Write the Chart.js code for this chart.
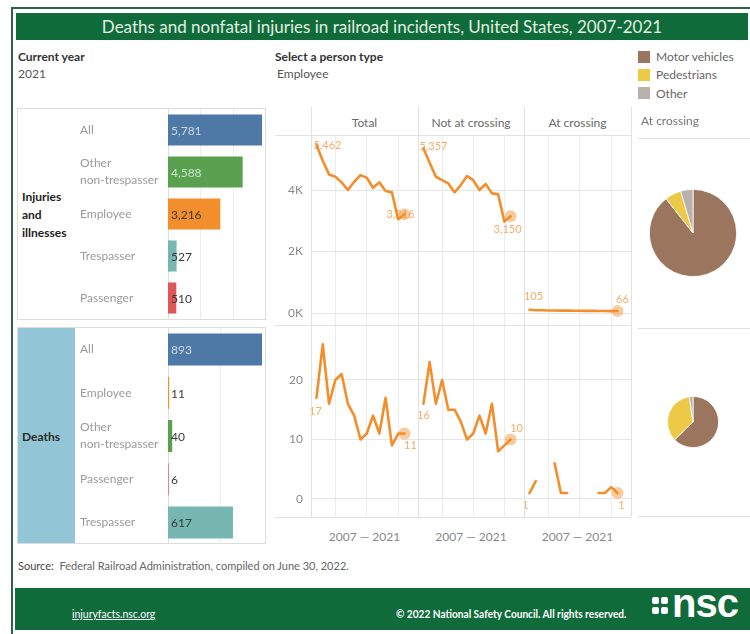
<!DOCTYPE html>
<html>
<head>
<meta charset="utf-8">
<title>Railroad incidents</title>
<script src="https://cdn.jsdelivr.net/npm/chart.js@4.4.0/dist/chart.umd.min.js"></script>
<style>
  body { margin: 0; width: 750px; height: 634px; position: relative; background: #fff; overflow: hidden;
         font-family: Lato, "Open Sans", sans-serif; }
  .abs { position: absolute; white-space: nowrap; }
  canvas { position: absolute; }
  .hl { position: absolute; height: 1px; background: #e1e1e1; }
  .vl { position: absolute; width: 1px; background: #e1e1e1; }
  .t12 { font-size: 12px; line-height: 14px; }
  .key { position: absolute; width: 12px; height: 12px; }
  .foot { position: absolute; color: #fff; font-size: 11px; line-height: 14px; transform-origin: 0 50%; }
  .dot { position: absolute; width: 7px; height: 7px; border-radius: 2px; background: #fff; }
</style>
</head>
<body>

<!-- frame, title, footer -->
<div class="abs" style="left:11px;top:7px;width:745px;height:640px;border-top:2px solid #2f6244;border-left:2px solid #2f6244"></div>
<div class="abs" style="left:16px;top:13px;width:732px;height:27px;background:#0f6b3a;color:#e2efe0;font-size:17px;line-height:27px;text-align:center">Deaths and nonfatal injuries in railroad incidents, United States, 2007-2021</div>

<div class="abs t12" style="left:18px;top:50px;font-weight:bold;color:#333">Current year</div>
<div class="abs t12" style="left:18px;top:67px;color:#555">2021</div>
<div class="abs t12" style="left:275px;top:50px;font-weight:bold;color:#333">Select a person type</div>
<div class="abs t12" style="left:277px;top:67px;color:#555">Employee</div>

<div class="key" style="left:638px;top:51px;background:#9c755f"></div>
<div class="key" style="left:638px;top:69px;background:#edc948"></div>
<div class="key" style="left:638px;top:87px;background:#bab0ac"></div>
<div class="abs t12" style="left:656px;top:50px;color:#666">Motor vehicles</div>
<div class="abs t12" style="left:656px;top:68px;color:#666">Pedestrians</div>
<div class="abs t12" style="left:656px;top:87px;color:#666">Other</div>

<!-- left panels -->
<div class="abs" style="left:17px;top:108px;width:247px;height:210px;border:1px solid #dcdcdc"></div>
<div class="abs" style="left:22px;top:188px;font-size:12px;line-height:18px;font-weight:bold;color:#222">Injuries<br>and<br>illnesses</div>
<div class="abs" style="left:17px;top:327px;width:247px;height:215px;border:1px solid #dcdcdc"></div>
<div class="abs" style="left:18px;top:328px;width:57px;height:215px;background:#92c6d6"></div>
<div class="abs t12" style="left:22px;top:430px;font-weight:bold;color:#2a2a2a">Deaths</div>
<canvas id="injuryBars" width="184" height="210" style="left:80px;top:109px"></canvas>
<canvas id="deathBars" width="184" height="216" style="left:80px;top:328px"></canvas>

<!-- trend panel -->
<div class="abs t12" style="left:311px;top:116px;width:107px;text-align:center;color:#6a6a6a">Total</div>
<div class="abs t12" style="left:418px;top:116px;width:106px;text-align:center;color:#6a6a6a">Not at crossing</div>
<div class="abs t12" style="left:524px;top:116px;width:107px;text-align:center;color:#6a6a6a">At crossing</div>
<canvas id="injTotal" width="143" height="190" style="left:275px;top:135px"></canvas>
<canvas id="injNot" width="106" height="190" style="left:418px;top:135px"></canvas>
<canvas id="injAt" width="107" height="190" style="left:524px;top:135px"></canvas>
<canvas id="dthTotal" width="143" height="192" style="left:275px;top:325px"></canvas>
<canvas id="dthNot" width="106" height="192" style="left:418px;top:325px"></canvas>
<canvas id="dthAt" width="107" height="192" style="left:524px;top:325px"></canvas>
<div class="hl" style="left:275px;top:135px;width:356px"></div>
<div class="hl" style="left:275px;top:325px;width:356px"></div>
<div class="hl" style="left:275px;top:517px;width:356px"></div>
<div class="vl" style="left:311px;top:107px;height:410px"></div>
<div class="vl" style="left:418px;top:107px;height:410px"></div>
<div class="vl" style="left:524px;top:107px;height:410px"></div>
<div class="vl" style="left:631px;top:107px;height:410px"></div>
<div class="abs t12" style="left:311px;top:530px;width:107px;text-align:center;color:#888">2007 — 2021</div>
<div class="abs t12" style="left:418px;top:530px;width:106px;text-align:center;color:#888">2007 — 2021</div>
<div class="abs t12" style="left:524px;top:530px;width:107px;text-align:center;color:#888">2007 — 2021</div>

<!-- pies -->
<div class="abs t12" style="left:641px;top:114px;color:#777">At crossing</div>
<div class="hl" style="left:638px;top:138px;width:112px"></div>
<div class="hl" style="left:638px;top:328px;width:112px"></div>
<div class="hl" style="left:638px;top:516px;width:112px"></div>
<canvas id="injPie" width="88" height="88" style="left:649px;top:189px"></canvas>
<canvas id="dthPie" width="52" height="52" style="left:667px;top:396px"></canvas>

<div class="abs" style="left:18px;top:559px;font-size:11px;line-height:14px;color:#666"><span style="color:#444">Source:</span>&nbsp; Federal Railroad Administration, compiled on June 30, 2022.</div>

<div class="abs" style="left:15px;top:588px;width:735px;height:42px;background:#0f6b3a"></div>
<div class="foot" style="left:72px;top:607px;text-decoration:underline;transform:scaleX(0.95)">injuryfacts.nsc.org</div>
<div class="foot" style="left:396px;top:607px;font-weight:bold;transform:scaleX(0.92)">© 2022 National Safety Council. All rights reserved.</div>
<div class="dot" style="left:652px;top:597px"></div>
<div class="dot" style="left:661px;top:597px"></div>
<div class="dot" style="left:652px;top:607px"></div>
<div class="dot" style="left:661px;top:607px"></div>
<div class="abs" style="left:672px;top:583px;color:#fff;font-family:'Liberation Sans',Arial,sans-serif;font-weight:bold;font-size:40px;line-height:40px;letter-spacing:-1px">nsc</div>

<script>
// 2021 values by person type
const injuryGroups = ['All', 'Other non-trespasser', 'Employee', 'Trespasser', 'Passenger'];
const injuryCounts = [5781, 4588, 3216, 527, 510];
const deathGroups = ['All', 'Employee', 'Other non-trespasser', 'Passenger', 'Trespasser'];
const deathCounts = [893, 11, 40, 6, 617];

// employee trend, 2007-2021
const years = [2007, 2008, 2009, 2010, 2011, 2012, 2013, 2014, 2015, 2016, 2017, 2018, 2019, 2020, 2021];
const injTotal = [5462, 4950, 4508, 4432, 4249, 4000, 4270, 4486, 4400, 4076, 4249, 3968, 3924, 3049, 3216];
const injNotCrossing = [5357, 4890, 4432, 4324, 4216, 3924, 4162, 4454, 4324, 4000, 4195, 3892, 3859, 2973, 3150];
const injAtCrossing = [105, 92, 88, 84, 80, 76, 78, 74, 72, 70, 68, 66, 64, 62, 66];
const dthTotal = [17, 26, 16, 20, 21, 16, 14, 10, 11, 14, 11, 17, 9, 11, 11];
const dthNotCrossing = [16, 23, 16, 20, 15, 15, 13, 10, 11, 14, 11, 16, 8, 9, 10];
const dthAtCrossing = [1, 3, null, null, 6, 1, 1, null, null, null, null, 1, 1, 2, 1];

const injuryTicks = [0, 2000, 4000];
const deathTicks = [0, 10, 20];

// at-crossing split by what was struck
const pieTypes = ['Motor vehicles', 'Pedestrians', 'Other'];
const injuryPie = [59, 4, 3];
const deathPie = [27, 15, 1];

const typeColors = {
  'All': '#4e79a7',
  'Other non-trespasser': '#59a14f',
  'Employee': '#f28e2b',
  'Trespasser': '#76b7b2',
  'Passenger': '#e15759'
};
const pieColors = ['#9c755f', '#edc948', '#bab0ac'];
const lineColor = '#f28e2b';

Chart.defaults.font.family = 'Lato, "Open Sans", sans-serif';
Chart.defaults.animation = false;
Chart.defaults.responsive = false;
Chart.defaults.plugins.legend.display = false;
Chart.defaults.plugins.tooltip.enabled = false;

const wrap = s => s.startsWith('Other ') ? ['Other', s.slice(6)] : s;

// keep tick labels from pulling the plot area inwards
const noPad = s => { s.paddingTop = 0; s.paddingBottom = 0; s.paddingLeft = 0; s.paddingRight = 0; };

const barValues = {
  id: 'barValues',
  afterDatasetsDraw(chart) {
    const ctx = chart.ctx;
    const ds = chart.data.datasets[0];
    ctx.save();
    ctx.font = '12px Lato';
    ctx.textBaseline = 'middle';
    chart.getDatasetMeta(0).data.forEach((bar, i) => {
      const light = bar.x - bar.base > 40 && ['#4e79a7', '#59a14f'].includes(ds.backgroundColor[i]);
      ctx.fillStyle = light ? 'rgba(255,255,255,0.7)' : '#3a3a3a';
      ctx.fillText(ds.data[i].toLocaleString('en-US'), bar.base + 3, bar.y + 1);
    });
    ctx.restore();
  }
};

function barChart(id, groups, counts, max, grid) {
  new Chart(document.getElementById(id), {
    type: 'bar',
    data: {
      labels: groups.map(wrap),
      datasets: [{
        data: counts,
        backgroundColor: groups.map(g => typeColors[g]),
        barPercentage: 0.74,
        categoryPercentage: 1
      }]
    },
    options: {
      indexAxis: 'y',
      layout: { padding: 0, autoPadding: false },
      scales: {
        x: {
          min: 0, max: max,
          afterBuildTicks: s => { s.ticks = grid.map(v => ({ value: v })); },
          afterFit: noPad,
          ticks: { display: false },
          grid: { color: '#ececec', drawTicks: false },
          border: { display: false }
        },
        y: {
          afterFit: s => { noPad(s); s.width = 88; },
          ticks: { crossAlign: 'far', color: '#9a9a9a', padding: 0, font: { size: 12, lineHeight: 1.4 } },
          grid: { display: false, drawTicks: false },
          border: { color: '#dcdcdc' }
        }
      }
    },
    plugins: [barValues]
  });
}

// value labels next to chosen points, drawn under the line
const pointLabels = {
  id: 'pointLabels',
  beforeDatasetsDraw(chart, args, opts) {
    const meta = chart.getDatasetMeta(0);
    const data = chart.data.datasets[0].data;
    const ctx = chart.ctx;
    ctx.save();
    ctx.font = '11px Lato';
    ctx.fillStyle = '#f5ab6a';
    ctx.textAlign = 'center';
    ctx.textBaseline = 'middle';
    (opts.marks || []).forEach(m => {
      const p = meta.data[m.i];
      ctx.fillText(data[m.i].y.toLocaleString('en-US'), p.x + m.dx, p.y + m.dy);
    });
    ctx.restore();
  }
};

function lineChart(id, values, yMin, yMax, ticks, fmt, withAxis, marks) {
  new Chart(document.getElementById(id), {
    type: 'line',
    data: {
      datasets: [{
        data: years.map((y, i) => ({ x: y, y: values[i] })),
        borderColor: lineColor,
        borderWidth: 2.6,
        borderJoinStyle: 'round',
        borderCapStyle: 'round',
        tension: 0,
        spanGaps: false,
        pointRadius: years.map((y, i) => i === years.length - 1 ? 6 : 0),
        pointBackgroundColor: 'rgba(242,142,43,0.45)',
        pointBorderWidth: 0
      }]
    },
    options: {
      layout: { padding: 0, autoPadding: false },
      plugins: { pointLabels: { marks: marks } },
      scales: {
        x: {
          type: 'linear', min: 2006.13, max: 2023.15,
          afterBuildTicks: s => { s.ticks = [2010, 2015, 2020].map(v => ({ value: v })); },
          afterFit: noPad,
          ticks: { display: false },
          grid: { color: '#ececec', drawTicks: false },
          border: { display: false }
        },
        y: {
          min: yMin, max: yMax,
          afterBuildTicks: s => { s.ticks = ticks.map(v => ({ value: v })); },
          afterFit: s => { noPad(s); s.width = withAxis ? 36 : 0; },
          ticks: { display: withAxis, color: '#8a8a8a', padding: 8, font: { size: 12 }, callback: fmt },
          grid: { color: '#e6e6e6', drawTicks: false },
          border: { display: false }
        }
      }
    },
    plugins: [pointLabels]
  });
}

function pieChart(id, values) {
  new Chart(document.getElementById(id), {
    type: 'pie',
    data: {
      labels: pieTypes,
      datasets: [{ data: values, backgroundColor: pieColors, borderColor: '#fff', borderWidth: 0.8 }]
    },
    options: { layout: { padding: 0 } }
  });
}

barChart('injuryBars', injuryGroups, injuryCounts, 5900, [2000, 4000]);
barChart('deathBars', deathGroups, deathCounts, 912, [500]);

const kFmt = v => (v / 1000) + 'K';
const nFmt = v => v;
const last = years.length - 1;

lineChart('injTotal', injTotal, -390, 5790, injuryTicks, kFmt, true,
  [{ i: 0, dx: 11, dy: 0 }, { i: last, dx: -4, dy: 0 }]);
lineChart('injNot', injNotCrossing, -390, 5790, injuryTicks, kFmt, false,
  [{ i: 0, dx: 10, dy: -2 }, { i: last, dx: -3, dy: 13 }]);
lineChart('injAt', injAtCrossing, -390, 5790, injuryTicks, kFmt, false,
  [{ i: 0, dx: 4, dy: -13 }, { i: last, dx: 5, dy: -12 }]);
lineChart('dthTotal', dthTotal, -3.03, 29.24, deathTicks, nFmt, true,
  [{ i: 0, dx: -1, dy: 14 }, { i: last, dx: 6, dy: 12 }]);
lineChart('dthNot', dthNotCrossing, -3.03, 29.24, deathTicks, nFmt, false,
  [{ i: 0, dx: 0, dy: 12 }, { i: last, dx: 6, dy: -11 }]);
lineChart('dthAt', dthAtCrossing, -3.03, 29.24, deathTicks, nFmt, false,
  [{ i: 0, dx: -4, dy: 12 }, { i: last, dx: 4, dy: 12 }]);

pieChart('injPie', injuryPie);
pieChart('dthPie', deathPie);
</script>
</body>
</html>
